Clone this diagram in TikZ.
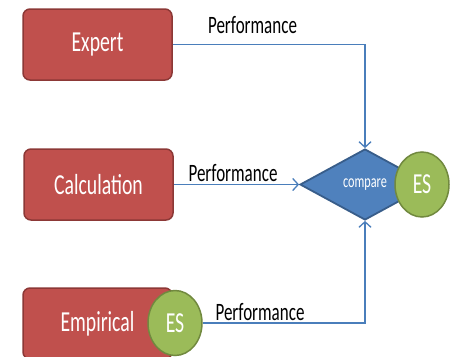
\documentclass[tikz,border=0pt]{standalone}
\usepackage{fontspec}
\setmainfont{Carlito}[FakeStretch=0.68]
\usetikzlibrary{positioning,arrows.meta,shapes.geometric}
\definecolor{boxred}{HTML}{C0504D}
\definecolor{boxredline}{HTML}{8C3836}
\definecolor{cmpblue}{HTML}{4F81BD}
\definecolor{cmpblueline}{HTML}{385D8A}
\definecolor{esgreen}{HTML}{9BBB59}
\definecolor{esgreenline}{HTML}{71893F}
\definecolor{flowblue}{HTML}{4A7EBB}

\begin{document}
\begin{tikzpicture}[x=1pt,y=-1pt]
            \tikzstyle{box}=[draw=boxredline,fill=boxred,line width=1.5pt,rounded corners=7pt,minimum width=149pt,minimum height=71pt,text=white,font=\fontsize{29}{31}\selectfont]
            \tikzstyle{es}=[ellipse,draw=esgreenline,fill=esgreen,line width=1.5pt,inner sep=0pt,minimum width=54pt,minimum height=65pt,text=white,font=\fontsize{29}{31}\selectfont]
            \tikzstyle{cmp}=[diamond,draw=cmpblueline,fill=cmpblue,line width=1.8pt,inner sep=0pt,minimum width=130pt,minimum height=71pt,text=white,font=\fontsize{18}{20}\selectfont]
            \tikzstyle{perf}=[anchor=base,inner sep=0pt,font=\fontsize{25}{27}\selectfont]
            \tikzstyle{flow}=[draw=flowblue,line width=1.3pt,-{Straight Barb[length=5.5pt,width=12pt]}]
            \clip (0,0) rectangle (454,356);

            \node[box] (expert) at (97.5,44.5) {Expert};
            \node[box] (calc) at (98.5,184.5) {Calculation};
            \node[box] (emp) at (97.5,323.5) {Empirical};
            \node[es] (esemp) at (175,323) {ES};

            \node[cmp] (cmp) at (365,184.5) {compare};
            \node[es] (escmp) at (422,184.5) {ES};

            \node[perf] (perf1) at (252.5,33) {Performance};
            \node[perf] (perf2) at (233,181) {Performance};
            \node[perf] (perf3) at (260,320) {Performance};

            \draw[flow] (expert) -| (cmp.north);
            \draw[flow] (calc) -- (cmp.west);
            \draw[flow] (esemp) -| (cmp.south);
        \end{tikzpicture}
\end{document}
